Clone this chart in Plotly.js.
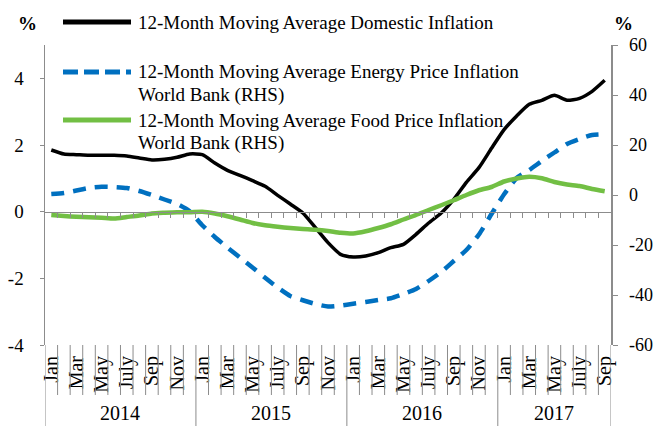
<!DOCTYPE html>
<html>
<head>
<meta charset="utf-8">
<script src="https://cdn.plot.ly/plotly-3.0.1.min.js"></script>
<style>html,body{margin:0;padding:0;background:#fff;}#chart{width:657px;height:426px;}</style>
</head>
<body>
<div id="chart"></div>
<script>
// ---- data ----
var monthNames = ["Jan","Feb","Mar","Apr","May","June","July","Aug","Sep","Oct","Nov","Dec"];
var years = ["2014","2015","2016","2017"];
var monthsPerYear = [12, 12, 12, 9];

var domestic = [1.85,1.73,1.71,1.69,1.69,1.69,1.67,1.61,1.55,1.57,1.63,1.73,
                1.71,1.46,1.24,1.09,0.93,0.76,0.49,0.23,-0.04,-0.48,-0.93,-1.28,
                -1.36,-1.33,-1.23,-1.08,-0.98,-0.68,-0.34,-0.04,0.37,0.88,1.32,1.90,
                2.46,2.87,3.22,3.34,3.49,3.34,3.40,3.61,3.94];
var energy = [0.4,0.8,1.8,2.8,3.3,3.2,2.8,1.6,0.0,-1.8,-3.6,-6.5,
              -12.1,-16.8,-21.0,-25.0,-29.0,-33.1,-37.0,-40.4,-42.1,-43.6,-44.6,-44.2,
              -43.5,-42.8,-42.0,-41.3,-39.6,-37.6,-34.4,-30.8,-26.4,-22.0,-15.8,-7.6,
              0.3,6.8,10.0,13.6,17.0,20.4,22.4,24.0,24.3];
var food = [-8.0,-8.4,-8.7,-8.9,-9.1,-9.4,-8.8,-8.2,-7.4,-7.1,-6.9,-6.9,
            -6.7,-7.4,-8.5,-9.8,-11.2,-12.1,-12.7,-13.2,-13.6,-13.9,-14.4,-15.1,
            -15.4,-14.5,-13.2,-11.7,-9.8,-8.0,-6.0,-4.1,-2.1,0.0,1.9,3.2,
            5.4,6.6,7.3,6.7,5.2,4.2,3.6,2.4,1.5];
var seriesNames = ["12-Month Moving Average Domestic Inflation",
                   "12-Month Moving Average Energy Price Inflation World Bank (RHS)",
                   "12-Month Moving Average Food Price Inflation World Bank (RHS)"];
var leftTicks = [-4,-2,0,2,4];
var leftTickText = ["-4","-2","0","2","4"];
var rightTicks = [-60,-40,-20,0,20,40,60];
var rightTickText = ["-60","-40","-20","0","20","40","60"];

// ---- derived category positions ----
var nMonths = domestic.length;
var xc = [], catLabels = [];
for (var i = 0; i < nMonths; i++) {
  xc.push(i + 0.5);
  catLabels.push(monthNames[i % 12]);
}
var labelVals = [], labelText = [];
for (var i = 0; i < nMonths; i += 2) { labelVals.push(xc[i]); labelText.push(catLabels[i]); }
var boundaries = [];
for (var i = 1; i < nMonths; i++) boundaries.push(i);

var grey = "#8c8c8c";
var FONT = "Liberation Serif, Times New Roman, serif";
var FS = 19;
var plotH = 300, plotW = 566;
function py(p) { return (345 - p) / plotH; }   // pixel -> paper y
function px(p) { return (p - 45) / plotW; }    // pixel -> paper x

var traces = [
  {x: xc, y: domestic, name: seriesNames[0], type: "scatter", mode: "lines",
   xaxis: "x", yaxis: "y", line: {color: "#000000", width: 3.5, shape: "spline", smoothing: 0.6}},
  {x: xc, y: energy, name: seriesNames[1], type: "scatter", mode: "lines",
   xaxis: "x", yaxis: "y2", line: {color: "#0070C0", width: 4.5, dash: "13px,9px", shape: "spline", smoothing: 0.6}},
  {x: xc, y: food, name: seriesNames[2], type: "scatter", mode: "lines",
   xaxis: "x2", yaxis: "y2", line: {color: "#72BF44", width: 4.5, shape: "spline", smoothing: 0.6}}
];

var shapes = [], annotations = [];
var yearBounds = [0];
for (var k = 0; k < monthsPerYear.length; k++) yearBounds.push(yearBounds[k] + monthsPerYear[k]);
boundaries.forEach(function (b) {
  if (yearBounds.indexOf(b) < 0)
    shapes.push({type: "line", xref: "x", yref: "paper", x0: b, x1: b, y0: 0, y1: py(395),
                 line: {color: grey, width: 1}});
});
yearBounds.forEach(function (b) {
  shapes.push({type: "line", xref: "x", yref: "paper", x0: b, x1: b, y0: 0, y1: py(426),
               line: {color: grey, width: 1}});
});
for (var k = 0; k < years.length; k++) {
  annotations.push({xref: "x", yref: "paper", x: (yearBounds[k] + yearBounds[k + 1]) / 2, y: py(425),
    text: years[k], showarrow: false, xanchor: "center", yanchor: "bottom", borderpad: 0,
    font: {family: FONT, size: 20, color: "#000"}});
}
// legend (manual)
var legendY = [[22], [72, 95], [120, 143]];
var legendText = [[seriesNames[0]],
                  ["12-Month Moving Average Energy Price Inflation", "World Bank (RHS)"],
                  ["12-Month Moving Average Food Price Inflation", "World Bank (RHS)"]];
var legendLine = [{color: "#000000", width: 5}, {color: "#0070C0", width: 5, dash: "15px,6px"}, {color: "#72BF44", width: 5}];
for (var k = 0; k < 3; k++) {
  shapes.push({type: "line", xref: "paper", yref: "paper", x0: px(63), x1: px(131),
    y0: py(legendY[k][0]), y1: py(legendY[k][0]), line: legendLine[k]});
  for (var j = 0; j < legendText[k].length; j++) {
    annotations.push({xref: "paper", yref: "paper", x: px(136), y: py(legendY[k][j]),
      text: legendText[k][j], showarrow: false, xanchor: "left", yanchor: "middle",
      font: {family: FONT, size: FS, color: "#000"}});
  }
}
annotations.push({xref: "paper", yref: "paper", x: px(27), y: py(23), text: "<b>%</b>", showarrow: false,
  xanchor: "center", yanchor: "middle", font: {family: FONT, size: FS, color: "#000"}});
annotations.push({xref: "paper", yref: "paper", x: px(623), y: py(23), text: "<b>%</b>", showarrow: false,
  xanchor: "center", yanchor: "middle", font: {family: FONT, size: FS, color: "#000"}});

var layout = {
  width: 657, height: 426,
  margin: {l: 45, r: 46, t: 45, b: 81, pad: 0},
  paper_bgcolor: "#ffffff", plot_bgcolor: "#ffffff",
  showlegend: false,
  font: {family: FONT, size: FS, color: "#000"},
  xaxis: {range: [0, nMonths], anchor: "free", position: 4 / 9, showgrid: false, zeroline: false,
    showline: true, linecolor: grey, linewidth: 1.5, tickmode: "array", tickvals: boundaries,
    ticks: "outside", ticklen: 5, tickcolor: grey, tickwidth: 1, showticklabels: false, fixedrange: true},
  xaxis2: {range: [0, nMonths], overlaying: "x", anchor: "y", side: "bottom", showgrid: false, zeroline: false,
    showline: false, tickmode: "array", tickvals: labelVals, ticktext: labelText, tickangle: -90,
    ticks: "", ticklabelstandoff: 6, tickfont: {family: FONT, size: 20, color: "#000"}},
  yaxis: {range: [-4, 5], tickmode: "array", tickvals: leftTicks, ticktext: leftTickText, showgrid: false, zeroline: false,
    showline: true, linecolor: grey, linewidth: 1.5, ticks: "outside", ticklen: 4, tickcolor: grey,
    ticklabelstandoff: 12, tickfont: {family: FONT, size: FS, color: "#000"}},
  yaxis2: {range: [-60, 60], overlaying: "y", side: "right", anchor: "x", tickmode: "array", tickvals: rightTicks,
    ticktext: rightTickText, showgrid: false, zeroline: false, showline: true, linecolor: grey, linewidth: 1.5,
    ticks: "outside", ticklen: 5, tickcolor: grey, ticklabelstandoff: 8, tickfont: {family: FONT, size: 18, color: "#000"}},
  shapes: shapes,
  annotations: annotations
};

Plotly.newPlot("chart", traces, layout, {displayModeBar: false, staticPlot: true});
</script>
</body>
</html>
